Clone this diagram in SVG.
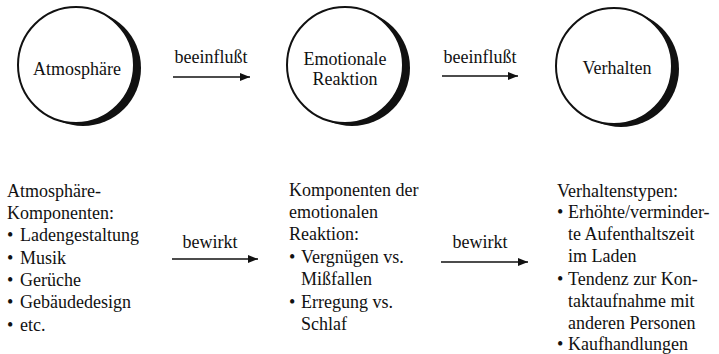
<svg xmlns="http://www.w3.org/2000/svg" width="719" height="354" viewBox="0 0 719 354">
<style>
text{font-family:'Liberation Serif','Times New Roman',serif;font-size:18px;fill:#111}
.c{text-anchor:middle}
.ring{fill:#fff;stroke:#111;stroke-width:2}
.shadow{fill:#111}
.conn line{stroke:#111;stroke-width:1.6}
</style>
<defs>
<marker id="ah" viewBox="0 0 10 8" refX="10" refY="4" markerWidth="10" markerHeight="8" markerUnits="userSpaceOnUse" orient="auto">
<path d="M0,0 L10,4 L0,8 z" fill="#111"/>
</marker>
</defs>
<rect width="719" height="354" fill="#fff"/>
<g id="atmosphaere">
<circle class="shadow" cx="83" cy="68" r="58"/>
<circle class="ring" cx="76" cy="65" r="58"/>
<text class="c" x="77" y="75">Atmosphäre</text>
</g>
<g id="emotionale-reaktion">
<circle class="shadow" cx="352" cy="68" r="58"/>
<circle class="ring" cx="345" cy="65" r="58"/>
<text class="c" x="345" y="65">Emotionale</text>
<text class="c" x="345" y="85">Reaktion</text>
</g>
<g id="verhalten">
<circle class="shadow" cx="621" cy="69" r="58"/>
<circle class="ring" cx="614" cy="66" r="58"/>
<text class="c" x="617" y="74">Verhalten</text>
</g>
<g id="atmosphaere-komponenten">
<text x="7" y="197">Atmosphäre-</text>
<text x="7" y="219">Komponenten:</text>
<text x="7" y="241">•</text><text x="20" y="241">Ladengestaltung</text>
<text x="7" y="264">•</text><text x="20" y="264">Musik</text>
<text x="7" y="286">•</text><text x="20" y="286">Gerüche</text>
<text x="7" y="308">•</text><text x="20" y="308">Gebäudedesign</text>
<text x="7" y="331">•</text><text x="20" y="331">etc.</text>
</g>
<g id="emotionale-komponenten">
<text x="289" y="196">Komponenten der</text>
<text x="289" y="218">emotionalen</text>
<text x="289" y="240">Reaktion:</text>
<text x="289" y="263">•</text><text x="301" y="263">Vergnügen vs.</text>
<text x="301" y="285">Mißfallen</text>
<text x="289" y="308">•</text><text x="301" y="308">Erregung vs.</text>
<text x="301" y="330">Schlaf</text>
</g>
<g id="verhaltenstypen">
<text x="557" y="197">Verhaltenstypen:</text>
<text x="557" y="218">•</text><text x="568" y="218">Erhöhte/verminder-</text>
<text x="568" y="240">te Aufenthaltszeit</text>
<text x="568" y="262">im Laden</text>
<text x="557" y="285">•</text><text x="568" y="285">Tendenz zur Kon-</text>
<text x="568" y="307">taktaufnahme mit</text>
<text x="568" y="329">anderen Personen</text>
<text x="557" y="350">•</text><text x="568" y="350">Kaufhandlungen</text>
</g>
<g id="connectors" class="conn">
<line x1="173" y1="77" x2="250" y2="77" marker-end="url(#ah)"/>
<text class="c" x="211" y="63">beeinflußt</text>
<line x1="442" y1="76" x2="518" y2="76" marker-end="url(#ah)"/>
<text class="c" x="480" y="63">beeinflußt</text>
<line x1="172" y1="259" x2="258" y2="259" marker-end="url(#ah)"/>
<text class="c" x="210" y="248">bewirkt</text>
<line x1="441" y1="262" x2="528" y2="262" marker-end="url(#ah)"/>
<text class="c" x="480" y="248">bewirkt</text>
</g>
</svg>
